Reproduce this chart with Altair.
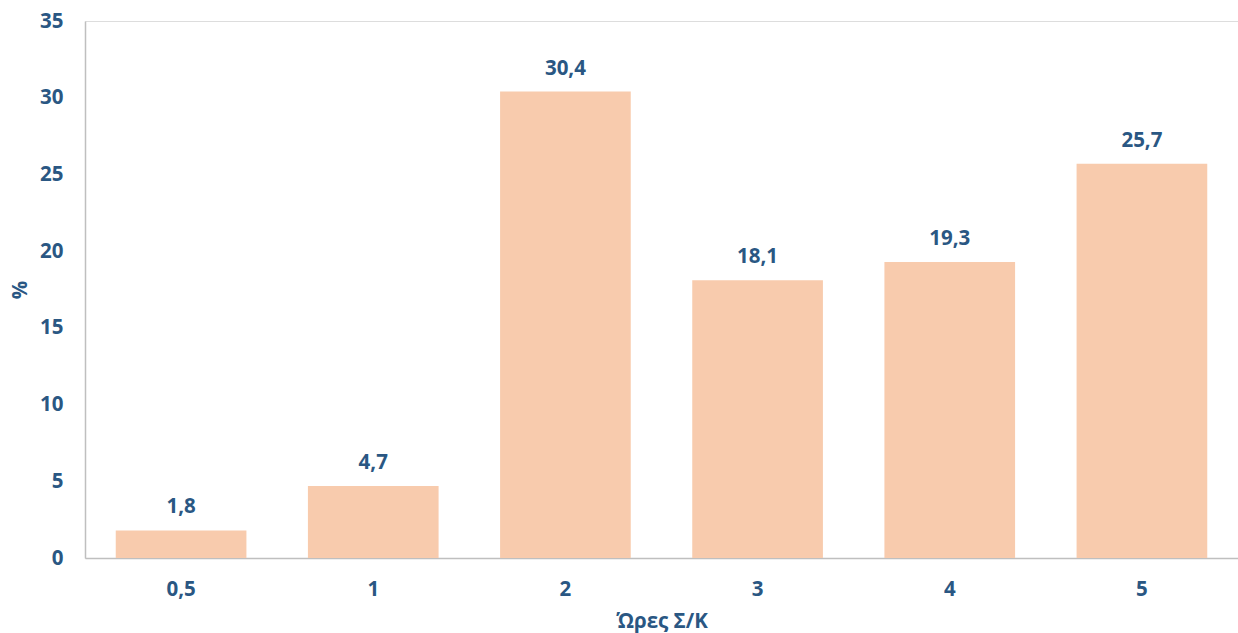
import altair as alt
import pandas as pd

categories = ["0,5", "1", "2", "3", "4", "5"]
values = [1.8, 4.7, 30.4, 18.1, 19.3, 25.7]

df = pd.DataFrame({"cat": categories, "value": values})

FONT = "Open Sans"
BLUE = "#2A5783"
FS = 20.5

base = alt.Chart(df).encode(
    x=alt.X(
        "cat:N",
        sort=categories,
        scale=alt.Scale(paddingInner=0.32, paddingOuter=0.16),
        axis=alt.Axis(
            title="Ώρες Σ/Κ",
            labelAngle=0,
            labelFont=FONT,
            labelFontSize=FS,
            labelFontWeight="bold",
            labelColor=BLUE,
            labelPadding=21,
            titleFont=FONT,
            titleFontSize=FS,
            titleFontWeight="bold",
            titleColor=BLUE,
            titlePadding=12,
            domainColor="#BFBFBF",
            domainWidth=1.5,
            ticks=False,
            grid=False,
        ),
    ),
    y=alt.Y(
        "value:Q",
        scale=alt.Scale(domain=[0, 35], nice=False),
        axis=alt.Axis(
            title="%",
            values=[0, 5, 10, 15, 20, 25, 30, 35],
            labelFont=FONT,
            labelFontSize=FS,
            labelFontWeight="bold",
            labelColor=BLUE,
            labelPadding=22,
            titleFont=FONT,
            titleFontSize=FS,
            titleFontWeight="bold",
            titleColor=BLUE,
            titlePadding=9,
            domainColor="#BFBFBF",
            domainWidth=1.5,
            ticks=False,
            grid=False,
        ),
    ),
)

bars = base.mark_bar(color="#F8CBAD")

labels = base.transform_calculate(
    label="replace(format(datum.value, '.1f'), '.', ',')"
).mark_text(
    font=FONT, fontSize=FS, fontWeight="bold", color=BLUE, dy=-23, baseline="middle"
).encode(text="label:N")

chart = (
    (bars + labels)
    .properties(
        width=1153,
        height=537,
        autosize=alt.AutoSizeParams(type="none"),
        padding={"left": 85, "top": 21, "right": 0, "bottom": 75},
    )
    .configure_view(stroke=None)
    .configure(background="white")
)

chart.save("out.html", embed_options={"renderer": "svg", "actions": False})
